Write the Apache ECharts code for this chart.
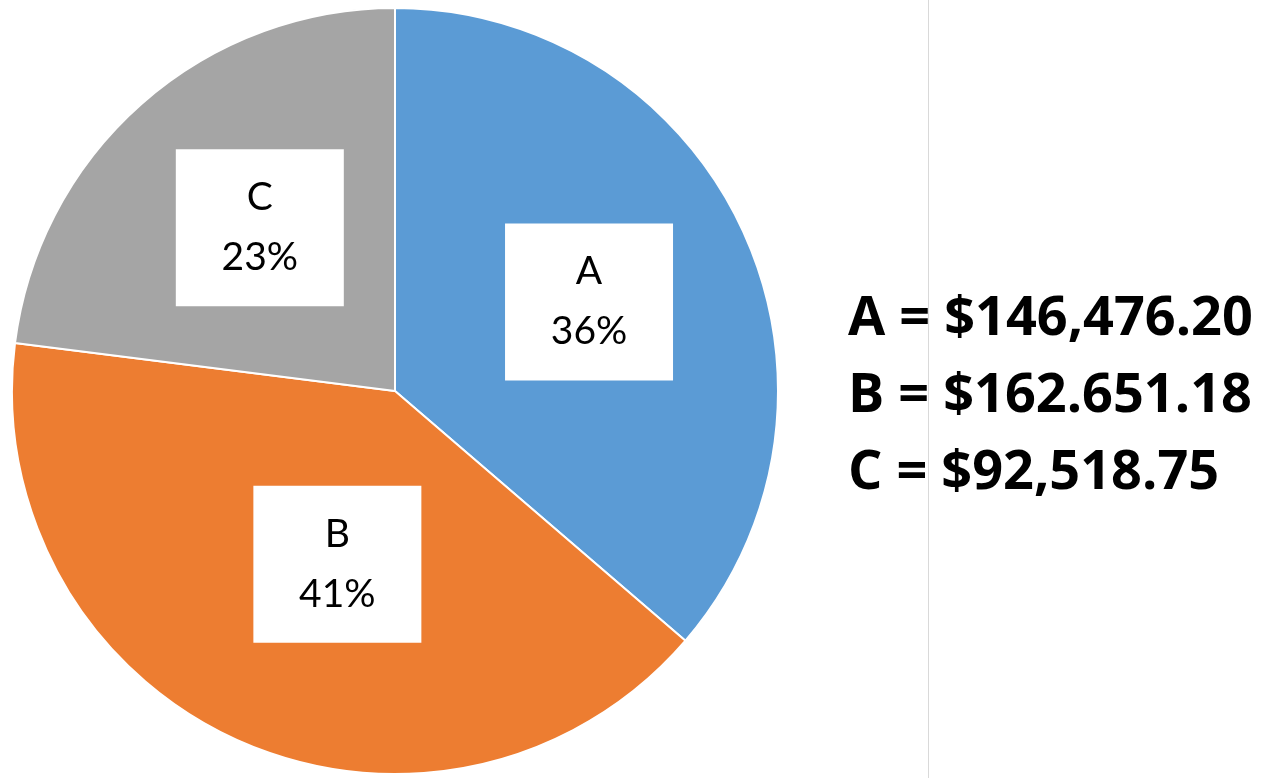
<!DOCTYPE html>
<html>
<head>
<meta charset="utf-8">
<script src="https://cdn.jsdelivr.net/npm/echarts@6/dist/echarts.min.js"></script>
<style>html,body{margin:0;padding:0;background:#fff}#c{width:1272px;height:778px}</style>
</head>
<body>
<div id="c"></div>
<script>
// Data
const categories = ['A', 'B', 'C'];
const sharePercent = [36.3, 40.7, 23.0];
const amountTexts = ['$146,476.20', '$162.651.18', '$92,518.75'];
const colors = ['#5B9BD5', '#ED7D31', '#A5A5A5'];

const pieData = categories.map((c, i) => ({ name: c, value: sharePercent[i], itemStyle: { color: colors[i] } }));
// label box nudges (Excel "best fit" placement)
const labelNudge = [[0, 0], [29, -22], [6, -3]];
const labelData = categories.map((c, i) => ({ name: c, value: sharePercent[i], label: { offset: labelNudge[i] } }));
const legendText = categories.map((c, i) => c + ' = ' + amountTexts[i]).join('\n');

const chart = echarts.init(document.getElementById('c'), null, { renderer: 'canvas' });
chart.setOption({
  animation: false,
  backgroundColor: '#ffffff',
  title: {
    text: legendText,
    left: 843,
    top: 276,
    textStyle: { fontFamily: 'Open Sans', fontWeight: 'bold', fontSize: 54, lineHeight: 77, color: '#000' }
  },
  graphic: [{
    type: 'line',
    shape: { x1: 928.5, y1: 0, x2: 928.5, y2: 778 },
    style: { stroke: '#d9d9d9', lineWidth: 1 },
    silent: true
  }],
  series: [{
    type: 'pie',
    center: [395, 391],
    radius: [0, 383],
    startAngle: 90,
    clockwise: true,
    avoidLabelOverlap: false,
    label: { show: false },
    labelLine: { show: false },
    itemStyle: { borderColor: '#ffffff', borderWidth: 2 },
    emphasis: { disabled: true },
    data: pieData
  }, {
    type: 'pie',
    center: [395, 391],
    radius: [0, 421],
    startAngle: 90,
    clockwise: true,
    silent: true,
    percentPrecision: 0,
    avoidLabelOverlap: false,
    itemStyle: { color: 'rgba(0,0,0,0)', borderWidth: 0 },
    labelLine: { show: false },
    label: {
      show: true,
      position: 'inside',
      formatter: '{b}\n{d}%',
      fontFamily: 'Lato',
      fontSize: 39,
      lineHeight: 60,
      color: '#000',
      backgroundColor: '#ffffff',
      width: 168,
      align: 'center',
      padding: [19, 0, 18, 0]
    },
    emphasis: { disabled: true },
    data: labelData
  }]
});
</script>
</body>
</html>
